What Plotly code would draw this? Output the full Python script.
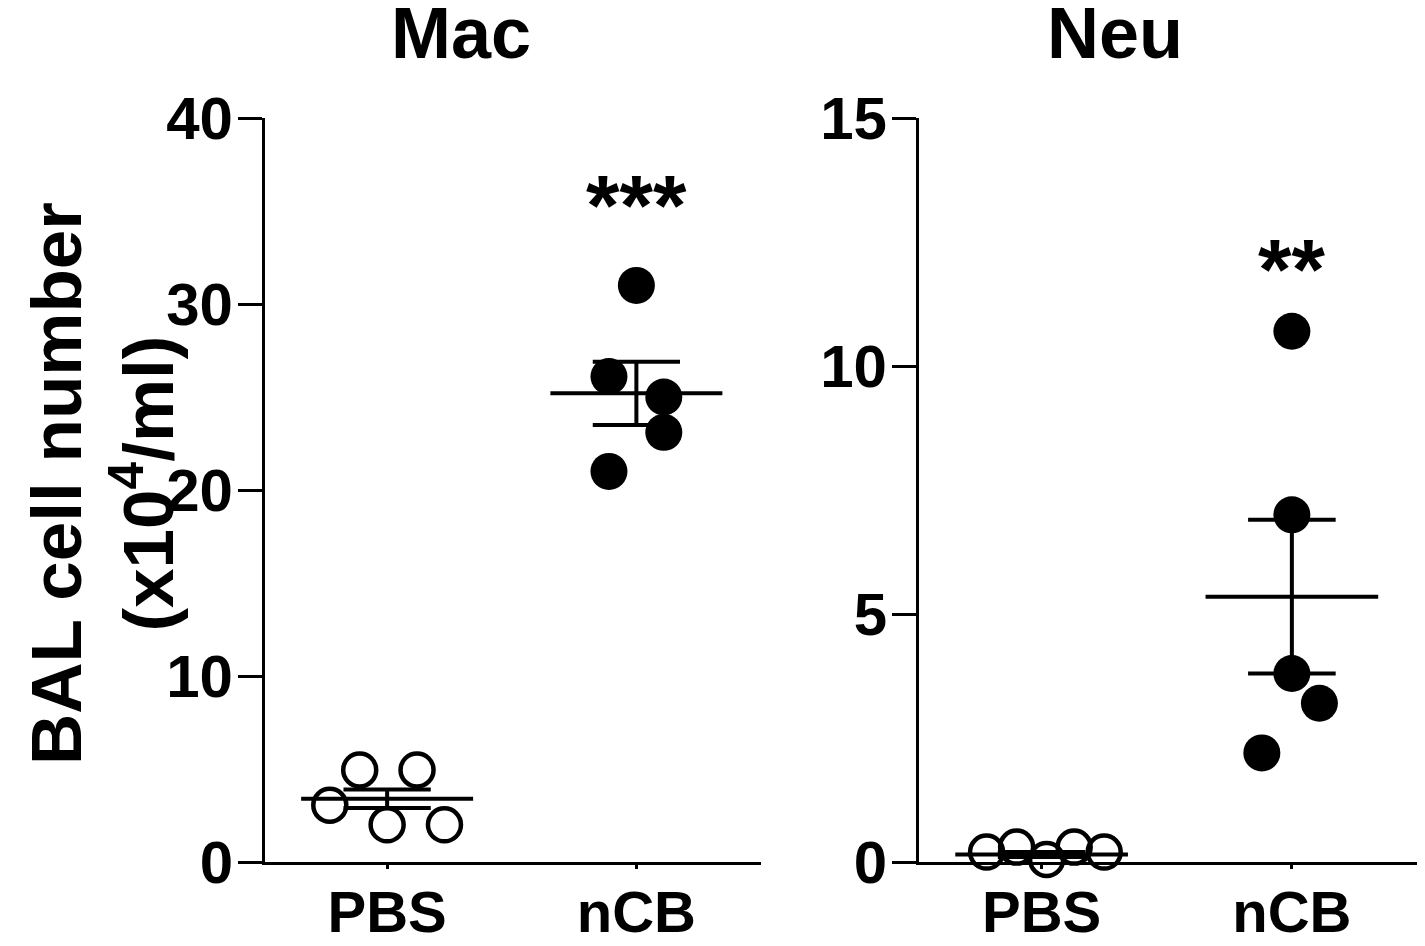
import plotly.graph_objects as go

OFF = 8  # page body margin offset
W, H = 1425 - OFF, 946 - OFF

# ---------------- data ----------------
groups = ["PBS", "nCB"]

mac_pbs = [4.95, 4.95, 3.05, 2.0, 2.0]
mac_ncb = [31.0, 26.1, 25.0, 23.1, 21.0]
mac_mean = [3.4, 25.2]
mac_sem = [0.5, 1.7]

neu_pbs = [0.2, 0.3, 0.05, 0.3, 0.2]
neu_ncb = [10.7, 7.0, 3.8, 3.2, 2.2]
neu_mean = [0.15, 5.35]
neu_sem = [0.05, 1.55]

mac_ticks = [0, 10, 20, 30, 40]
neu_ticks = [0, 5, 10, 15]

panel_titles = ["Mac", "Neu"]
signif = ["***", "**"]
y_label = "BAL cell number<br>(x10<sup>4</sup>/ml)"

# horizontal scatter offsets (layout, in category units)
mac_pbs_dx = [-0.11, 0.12, -0.23, 0.0, 0.23]
mac_ncb_dx = [0.0, -0.11, 0.11, 0.11, -0.11]
neu_pbs_dx = [-0.22, -0.1, 0.02, 0.13, 0.25]
neu_ncb_dx = [0.0, 0.0, 0.0, 0.11, -0.12]

FONT = "Arial, Liberation Sans, Helvetica, sans-serif"
MEAN_HW = 0.345
CAP_HW = 0.175
LW = 4


def px(x):
    return (x - OFF) / W


def py(y):
    return 1 - (y - OFF) / H


fig = go.Figure()


def add_group(xa, ya, xi, vals, dx, filled):
    fig.add_trace(go.Scatter(
        x=[xi + d for d in dx], y=vals, mode="markers", xaxis=xa, yaxis=ya,
        cliponaxis=False, showlegend=False,
        marker=dict(size=37 if filled else 33, symbol="circle",
                    color="black" if filled else "rgba(255,255,255,0)",
                    line=dict(color="black", width=0 if filled else 4.5)),
    ))


def add_stats(xa, ya, xi, m, s):
    fig.add_trace(go.Scatter(x=[xi - MEAN_HW, xi + MEAN_HW], y=[m, m], mode="lines",
                             xaxis=xa, yaxis=ya, cliponaxis=False, showlegend=False,
                             line=dict(color="black", width=LW)))
    fig.add_trace(go.Scatter(x=[xi, xi], y=[m - s, m + s], mode="lines",
                             xaxis=xa, yaxis=ya, cliponaxis=False, showlegend=False,
                             line=dict(color="black", width=LW)))
    for v in (m - s, m + s):
        fig.add_trace(go.Scatter(x=[xi - CAP_HW, xi + CAP_HW], y=[v, v], mode="lines",
                                 xaxis=xa, yaxis=ya, cliponaxis=False, showlegend=False,
                                 line=dict(color="black", width=LW)))


# Mac panel
add_stats("x", "y", 0, mac_mean[0], mac_sem[0])
add_stats("x", "y", 1, mac_mean[1], mac_sem[1])
add_group("x", "y", 0, mac_pbs, mac_pbs_dx, False)
add_group("x", "y", 1, mac_ncb, mac_ncb_dx, True)

# Neu panel
add_group("x2", "y2", 0, neu_pbs, neu_pbs_dx, False)
add_group("x2", "y2", 1, neu_ncb, neu_ncb_dx, True)
add_stats("x2", "y2", 0, neu_mean[0], neu_sem[0])
add_stats("x2", "y2", 1, neu_mean[1], neu_sem[1])

yd = [py(862), py(118)]

xcommon = dict(range=[-0.49, 1.5], tickmode="array", tickvals=[0, 1], ticktext=groups,
               showline=True, linecolor="black", linewidth=3, ticks="outside",
               ticklen=4, tickwidth=3, tickcolor="black", showgrid=False, zeroline=False,
               automargin=False, ticklabelstandoff=-7,
               tickfont=dict(family=FONT, size=58, color="black", weight="bold"))
ycommon = dict(showline=True, linecolor="black", linewidth=3, ticks="outside",
               ticklen=24, tickwidth=3, tickcolor="black", showgrid=False, zeroline=False,
               automargin=False, ticklabelstandoff=-7,
               tickfont=dict(family=FONT, size=60, color="black", weight="bold"),
               domain=yd)

fig.update_layout(
    width=W, height=H, margin=dict(l=0, r=0, t=0, b=0, autoexpand=False),
    plot_bgcolor="white", paper_bgcolor="white", showlegend=False,
    xaxis=dict(domain=[px(265), px(761)], anchor="y", **xcommon),
    yaxis=dict(range=[0, 40], tickvals=mac_ticks, anchor="x", **ycommon),
    xaxis2=dict(domain=[px(919), px(1417)], anchor="y2", **xcommon),
    yaxis2=dict(range=[0, 15], tickvals=neu_ticks, anchor="x2", **ycommon),
)

anns = []
for t, xc in zip(panel_titles, [461, 1115]):
    anns.append(dict(text=t, x=px(xc), y=py(33), xref="paper", yref="paper",
                     xanchor="center", yanchor="middle", showarrow=False,
                     font=dict(family=FONT, size=72, color="black", weight="bold")))
anns.append(dict(text=signif[0], x=1, y=35.3, xref="x", yref="y", xanchor="center",
                 yanchor="middle", showarrow=False,
                 font=dict(family=FONT, size=86, color="black", weight="bold")))
anns.append(dict(text=signif[1], x=1, y=11.95, xref="x2", yref="y2", xanchor="center",
                 yanchor="middle", showarrow=False,
                 font=dict(family=FONT, size=86, color="black", weight="bold")))
anns.append(dict(text=y_label, x=px(102), y=py(484), xref="paper", yref="paper",
                 xanchor="center", yanchor="middle", textangle=-90, showarrow=False,
                 font=dict(family=FONT, size=71, color="black", weight="bold")))
fig.update_layout(annotations=anns)

fig.write_html("out.html")
